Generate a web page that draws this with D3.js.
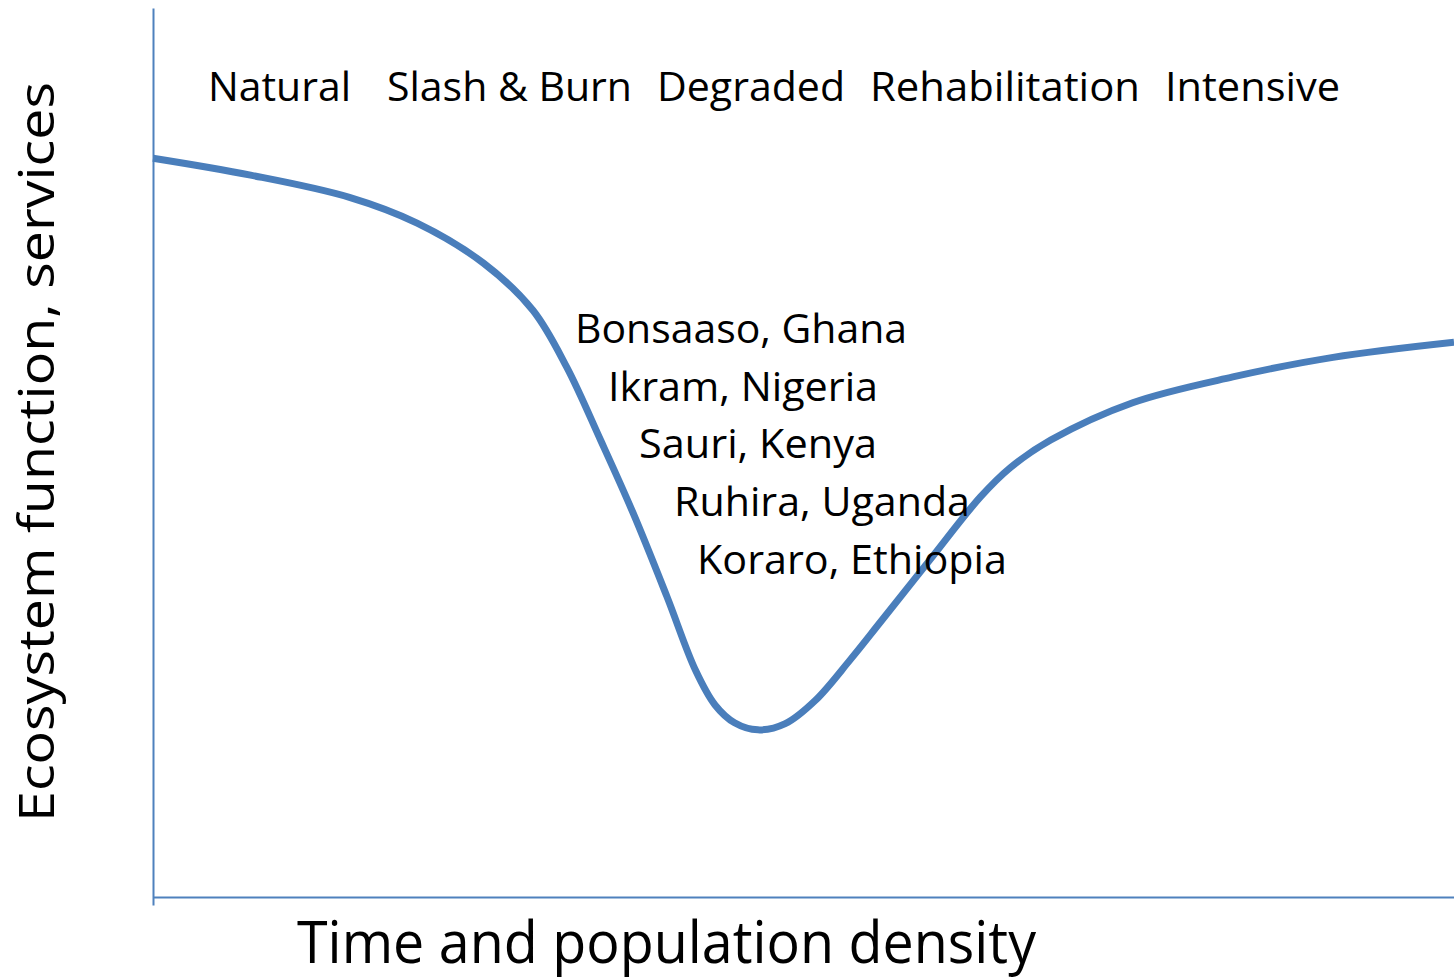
<!DOCTYPE html>
<html>
<head>
<meta charset="utf-8">
<script src="https://cdn.jsdelivr.net/npm/d3@7"></script>
<style>
  html, body { margin: 0; padding: 0; background: #fff; }
  svg { display: block; }
  text { font-family: "Open Sans", "Noto Sans", sans-serif; fill: #000; }
</style>
</head>
<body>
<div id="chart"></div>
<script>
// curve: time / population density (0-100) vs ecosystem function (0-100)
const timeIdx = [0, 7.5, 15.1, 20.3, 25.4, 29.2, 31.8, 34.4, 36.9, 39.5, 41.7, 43.2, 44.7, 46.5, 48.6, 50.9, 53.6, 55.9, 59.7, 63.6, 65.9, 69.0, 75.3, 83.0, 90.7, 100];
const ecoFunc = [83.1, 81.2, 78.7, 75.8, 71.3, 66.0, 59.6, 51.4, 43.2, 33.8, 25.5, 21.6, 19.6, 18.8, 19.5, 22.1, 26.7, 30.9, 37.9, 45.0, 48.3, 51.4, 55.6, 58.5, 60.7, 62.4];

const stages = ["Natural", "Slash & Burn", "Degraded", "Rehabilitation", "Intensive"];
const sites = ["Bonsaaso, Ghana", "Ikram, Nigeria", "Sauri, Kenya", "Ruhira, Uganda", "Koraro, Ethiopia"];

const xTitle = "Time and population density";
const yTitle = "Ecosystem function, services";

// layout (pixels)
const W = 1454, H = 979;
const plot = {left: 153, right: 1454, top: 8, bottom: 897};
const stageX = [208, 387, 657, 870, 1165];
const stageW = [143, 245, 188, 270, 175];
const siteX = [575, 608, 639, 674, 697];
const siteY = [343, 401, 458, 516, 574];
const siteW = [332, 270, 238, 296, 310];

const axisColor = "#4f81bd";
const lineColor = "#4a7ebb";

const svg = d3.select("#chart").append("svg")
    .attr("width", W)
    .attr("height", H);

const x = d3.scaleLinear().domain([0, 100]).range([plot.left, plot.right]);
const y = d3.scaleLinear().domain([0, 100]).range([plot.bottom, plot.top]);

// axes, no ticks
const xAxis = svg.append("g")
    .attr("transform", `translate(0,${plot.bottom})`)
    .call(d3.axisBottom(x).ticks(0).tickSizeOuter(0));
const yAxis = svg.append("g")
    .attr("transform", `translate(${plot.left},0)`)
    .call(d3.axisLeft(y.copy().range([plot.bottom + 8, plot.top])).ticks(0).tickSizeOuter(0));

[xAxis, yAxis].forEach(g => {
    g.select(".domain")
        .attr("stroke", axisColor)
        .attr("stroke-width", 2);
});

const data = timeIdx.map((t, i) => ({t: t, v: ecoFunc[i]}));

const line = d3.line()
    .x(d => x(d.t))
    .y(d => y(d.v))
    .curve(d3.curveCatmullRom.alpha(0.5));

svg.append("path")
    .datum(data)
    .attr("fill", "none")
    .attr("stroke", lineColor)
    .attr("stroke-width", 7)
    .attr("stroke-linejoin", "round")
    .attr("d", line);

// stage labels along the top
svg.append("g").selectAll("text")
    .data(stages)
    .join("text")
    .attr("x", (d, i) => stageX[i])
    .attr("y", 101)
    .attr("textLength", (d, i) => stageW[i])
    .attr("lengthAdjust", "spacingAndGlyphs")
    .style("font-size", "40px")
    .text(d => d);

// village sites
svg.append("g").selectAll("text")
    .data(sites)
    .join("text")
    .attr("x", (d, i) => siteX[i])
    .attr("y", (d, i) => siteY[i])
    .attr("textLength", (d, i) => siteW[i])
    .attr("lengthAdjust", "spacingAndGlyphs")
    .style("font-size", "40px")
    .text(d => d);

// axis titles
svg.append("text")
    .attr("x", 297)
    .attr("y", 963)
    .attr("textLength", 739)
    .attr("lengthAdjust", "spacingAndGlyphs")
    .style("font-size", "58px")
    .text(xTitle);

svg.append("text")
    .attr("transform", "rotate(-90)")
    .attr("x", -822)
    .attr("y", 54)
    .attr("textLength", 740)
    .attr("lengthAdjust", "spacingAndGlyphs")
    .style("font-size", "50px")
    .text(yTitle);
</script>
</body>
</html>
